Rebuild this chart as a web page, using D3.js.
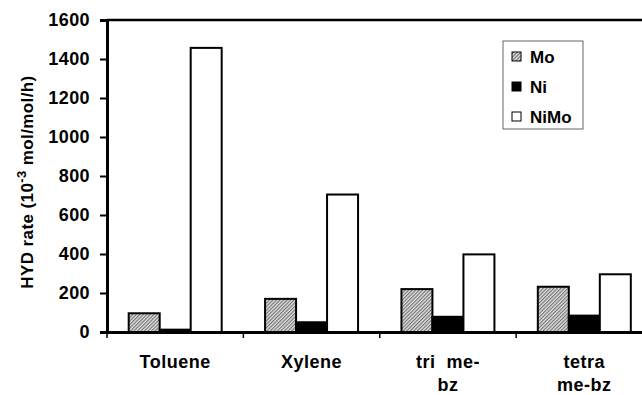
<!DOCTYPE html>
<html>
<head>
<meta charset="utf-8">
<script src="https://cdn.jsdelivr.net/npm/d3@7"></script>
<style>
  body { margin: 0; background: #fff; }
  svg { display: block; font-family: "Liberation Sans", Arial, sans-serif; font-weight: bold; }
</style>
</head>
<body>
<svg id="chart"></svg>
<script>
const width = 642;
const height = 395;

const categories = ['Toluene', 'Xylene', 'tri  me-|bz', 'tetra|me-bz'];
const series = ['Mo', 'Ni', 'NiMo'];
const moValues = [96, 170, 220, 232];
const niValues = [12, 50, 78, 84];
const nimoValues = [1457, 705, 398, 296];
const yTicks = [0, 200, 400, 600, 800, 1000, 1200, 1400, 1600];

const plotLeft = 107, plotTop = 20, plotBottom = 332, plotRight = 652.5;

const svg = d3.select('#chart').attr('width', width).attr('height', height);

const defs = svg.append('defs');
const pat = defs.append('pattern')
    .attr('id', 'hatch')
    .attr('patternUnits', 'userSpaceOnUse')
    .attr('width', 2.5).attr('height', 2.5)
    .attr('patternTransform', 'rotate(45)');
pat.append('rect').attr('width', 2.5).attr('height', 2.5).attr('fill', '#e0e0e0');
pat.append('rect').attr('width', 1.1).attr('height', 2.5).attr('fill', '#707070');

const fills = {'Mo': 'url(#hatch)', 'Ni': '#000', 'NiMo': '#fff'};

const x = d3.scaleBand().domain(categories).range([plotLeft, plotRight]).padding(0);
const xSub = d3.scaleBand().domain(series).range([0, x.bandwidth()]).paddingInner(0).paddingOuter(0.7);
const y = d3.scaleLinear().domain([0, 1600]).range([plotBottom, plotTop]);

const rows = categories.map((c, i) => ({
    cat: c,
    vals: [
        {s: 'Mo', v: moValues[i]},
        {s: 'Ni', v: niValues[i]},
        {s: 'NiMo', v: nimoValues[i]}
    ]
}));

// frame top line
svg.append('line')
    .attr('x1', plotLeft).attr('x2', width)
    .attr('y1', plotTop).attr('y2', plotTop)
    .attr('stroke', '#000').attr('stroke-width', 2.5);

// bars
const groups = svg.selectAll('g.grp')
    .data(rows)
    .enter()
    .append('g')
    .attr('class', 'grp')
    .attr('transform', d => `translate(${x(d.cat)},0)`);

groups.selectAll('rect')
    .data(d => d.vals)
    .enter()
    .append('rect')
    .attr('x', d => xSub(d.s))
    .attr('y', d => y(d.v))
    .attr('width', xSub.bandwidth())
    .attr('height', d => y(0) - y(d.v))
    .attr('fill', d => fills[d.s])
    .attr('stroke', '#000')
    .attr('stroke-width', 2);

// y axis
const yAxis = svg.append('g')
    .attr('transform', `translate(${plotLeft},0)`)
    .call(d3.axisLeft(y).tickValues(yTicks).tickFormat(d3.format('d')).tickSize(7).tickPadding(10));
yAxis.select('.domain').attr('stroke-width', 3);
yAxis.selectAll('.tick line').attr('stroke-width', 2);
yAxis.selectAll('.tick text')
    .attr('font-size', 18).attr('font-weight', 'bold')
    .attr('letter-spacing', 0.4)
    .attr('font-family', '"Liberation Sans", Arial, sans-serif');

// x axis
const xAxis = svg.append('g')
    .attr('transform', `translate(0,${plotBottom})`)
    .call(d3.axisBottom(x).tickSize(0).tickFormat(''));
xAxis.select('.domain').attr('stroke-width', 3);

const xTickPos = categories.map(c => x(c)).concat([x(categories[3]) + x.step()]);
svg.selectAll('line.xt')
    .data(xTickPos)
    .enter()
    .append('line')
    .attr('class', 'xt')
    .attr('x1', d => d).attr('x2', d => d)
    .attr('y1', plotBottom).attr('y2', plotBottom + 6)
    .attr('stroke', '#000').attr('stroke-width', 1.5);

// category labels
const labels = svg.selectAll('text.cat')
    .data(categories)
    .enter()
    .append('text')
    .attr('class', 'cat')
    .attr('text-anchor', 'middle')
    .attr('font-size', 18)
    .attr('letter-spacing', 0.5)
    .attr('x', d => x(d) + x.bandwidth() / 2)
    .attr('y', 368);
labels.each(function (d) {
    const parts = d.split('|');
    const t = d3.select(this);
    parts.forEach((p, i) => {
        t.append('tspan')
            .attr('x', x(d) + x.bandwidth() / 2)
            .attr('dy', i === 0 ? 0 : 23)
            .style('white-space', 'pre')
            .text(p);
    });
});

// y label
svg.append('text')
    .attr('transform', 'translate(33,182) rotate(-90)')
    .attr('text-anchor', 'middle')
    .attr('font-size', 17)
    .attr('letter-spacing', 0.4)
    .html('HYD rate (10<tspan dy="-7" font-size="13">-3</tspan><tspan dy="7"> mol/mol/h)</tspan>');

// legend
const lg = svg.append('g').attr('transform', 'translate(503,41)');
lg.append('rect')
    .attr('width', 80).attr('height', 88)
    .attr('fill', '#fff').attr('stroke', '#666').attr('stroke-width', 1);
series.forEach((s, i) => {
    lg.append('rect')
        .attr('x', 9).attr('y', 11 + i * 30)
        .attr('width', 9).attr('height', 9)
        .attr('fill', fills[s]).attr('stroke', '#000').attr('stroke-width', 1);
    lg.append('text')
        .attr('x', 27).attr('y', 22 + i * 30)
        .attr('font-size', 17)
        .text(s);
});
</script>
</body>
</html>
